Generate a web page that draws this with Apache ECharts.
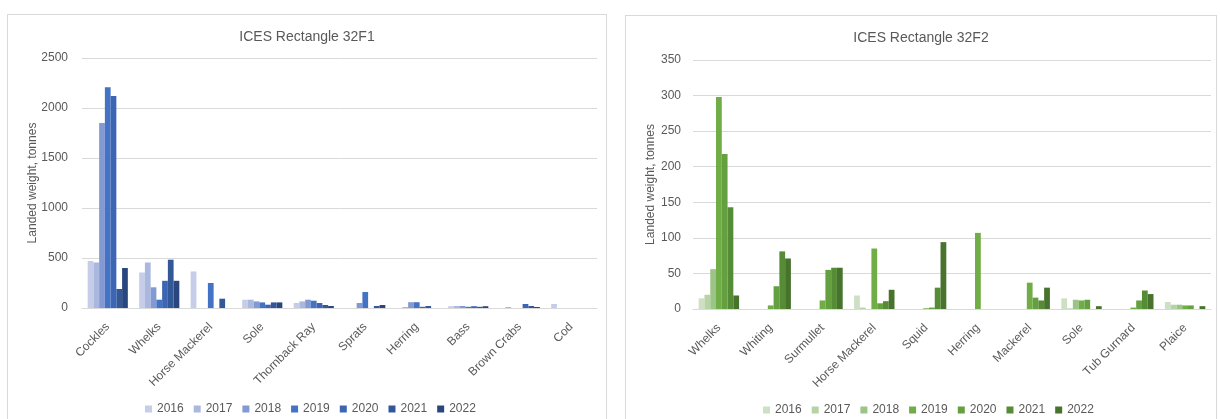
<!DOCTYPE html>
<html>
<head>
<meta charset="utf-8">
<script src="https://cdn.jsdelivr.net/npm/echarts@6/dist/echarts.min.js"></script>
<style>
  html, body { margin: 0; padding: 0; background: #ffffff; }
  body { width: 1220px; height: 419px; position: relative; overflow: hidden; }
  .panel { position: absolute; border: 1px solid #d9d9d9; background: #fff; }
  #left { left: 7px; top: 14px; width: 598px; height: 420px; }
  #right { left: 625px; top: 15px; width: 590px; height: 420px; }
</style>
</head>
<body>
<div id="left" class="panel"></div>
<div id="right" class="panel"></div>
<script>
// years shown in both legends
const years = ["2016", "2017", "2018", "2019", "2020", "2021", "2022"];

// ICES Rectangle 32F1
const f1Species = ["Cockles", "Whelks", "Horse Mackerel", "Sole", "Thornback Ray", "Sprats", "Herring", "Bass", "Brown Crabs", "Cod"];
const f1_2016 = [470, 355, 365, 83, 50, 0, 0, 18, 0, 40];
const f1_2017 = [455, 455, 0, 83, 66, 0, 10, 20, 10, 0];
const f1_2018 = [1850, 207, 0, 66, 83, 50, 58, 20, 0, 0];
const f1_2019 = [2207, 83, 250, 56, 73, 160, 58, 12, 0, 0];
const f1_2020 = [2120, 272, 0, 33, 50, 0, 12, 18, 40, 0];
const f1_2021 = [190, 483, 93, 56, 30, 20, 20, 12, 20, 0];
const f1_2022 = [400, 272, 0, 56, 20, 30, 0, 18, 10, 0];

// ICES Rectangle 32F2
const f2Species = ["Whelks", "Whiting", "Surmullet", "Horse Mackerel", "Squid", "Herring", "Mackerel", "Sole", "Tub Gurnard", "Plaice"];
const f2_2016 = [15, 0, 0, 19, 0, 0, 0, 15, 0, 10];
const f2_2017 = [20, 0, 0, 2, 0, 0, 0, 1, 0, 6];
const f2_2018 = [56, 0, 0, 0, 0, 0, 0, 13, 0, 6];
const f2_2019 = [298, 5, 12, 85, 1, 107, 37, 12, 2, 5];
const f2_2020 = [218, 32, 55, 8, 2, 0, 16, 13, 12, 5];
const f2_2021 = [143, 81, 58, 11, 30, 0, 12, 0, 26, 0];
const f2_2022 = [19, 71, 58, 27, 94, 0, 30, 4, 21, 4];

const blues = ["#c5cde8", "#aab8df", "#8399d2", "#4472c4", "#3c66b4", "#335898", "#2a467f"];
const greens = ["#cde0c3", "#b5d3a5", "#9cc487", "#70ad47", "#64a03f", "#578c37", "#47732d"];

const textColor = "#595959";
const fontFamily = "'Liberation Sans', Arial, sans-serif";

function buildOption(title, species, rows, colors, yMax, yInterval, grid) {
  return {
    animation: false,
    color: colors,
    textStyle: { fontFamily: fontFamily },
    title: {
      text: title,
      left: "center",
      top: 10,
      textStyle: { color: textColor, fontSize: 14, fontWeight: "normal", fontFamily: fontFamily }
    },
    legend: {
      left: 137,
      top: 388,
      padding: 0,
      itemWidth: 7,
      itemHeight: 7,
      itemGap: 10,
      icon: "rect",
      textStyle: { color: textColor, fontSize: 12, fontFamily: fontFamily },
      data: years
    },
    grid: grid,
    xAxis: {
      type: "category",
      data: species,
      axisTick: { show: false },
      axisLine: { lineStyle: { color: "#d9d9d9" } },
      axisLabel: { color: textColor, fontSize: 12, rotate: 45, margin: 17, interval: 0 }
    },
    yAxis: {
      type: "value",
      min: 0,
      max: yMax,
      interval: yInterval,
      name: "Landed weight, tonnes",
      nameLocation: "middle",
      nameGap: grid.nameGap,
      nameMoveOverlap: false,
      nameTextStyle: { color: textColor, fontSize: 12 },
      axisLine: { show: false },
      axisTick: { show: false },
      axisLabel: { color: textColor, fontSize: 12, margin: grid.labelMargin, formatter: (v) => String(v) },
      splitLine: { lineStyle: { color: "#d9d9d9" } }
    },
    series: rows.map((row, i) => ({
      name: years[i],
      type: "bar",
      barGap: "0%",
      barCategoryGap: "22%",
      data: row
    }))
  };
}

const leftChart = echarts.init(document.getElementById("left"));
leftChart.setOption(buildOption(
  "ICES Rectangle 32F1",
  f1Species,
  [f1_2016, f1_2017, f1_2018, f1_2019, f1_2020, f1_2021, f1_2022],
  blues,
  2500, 500,
  { left: 74, top: 43, width: 515, height: 250, nameGap: 43, labelMargin: 14 }
));

const rightChart = echarts.init(document.getElementById("right"));
rightChart.setOption(buildOption(
  "ICES Rectangle 32F2",
  f2Species,
  [f2_2016, f2_2017, f2_2018, f2_2019, f2_2020, f2_2021, f2_2022],
  greens,
  350, 50,
  { left: 67, top: 44, width: 518, height: 249, nameGap: 36, labelMargin: 12 }
));
</script>
</body>
</html>
